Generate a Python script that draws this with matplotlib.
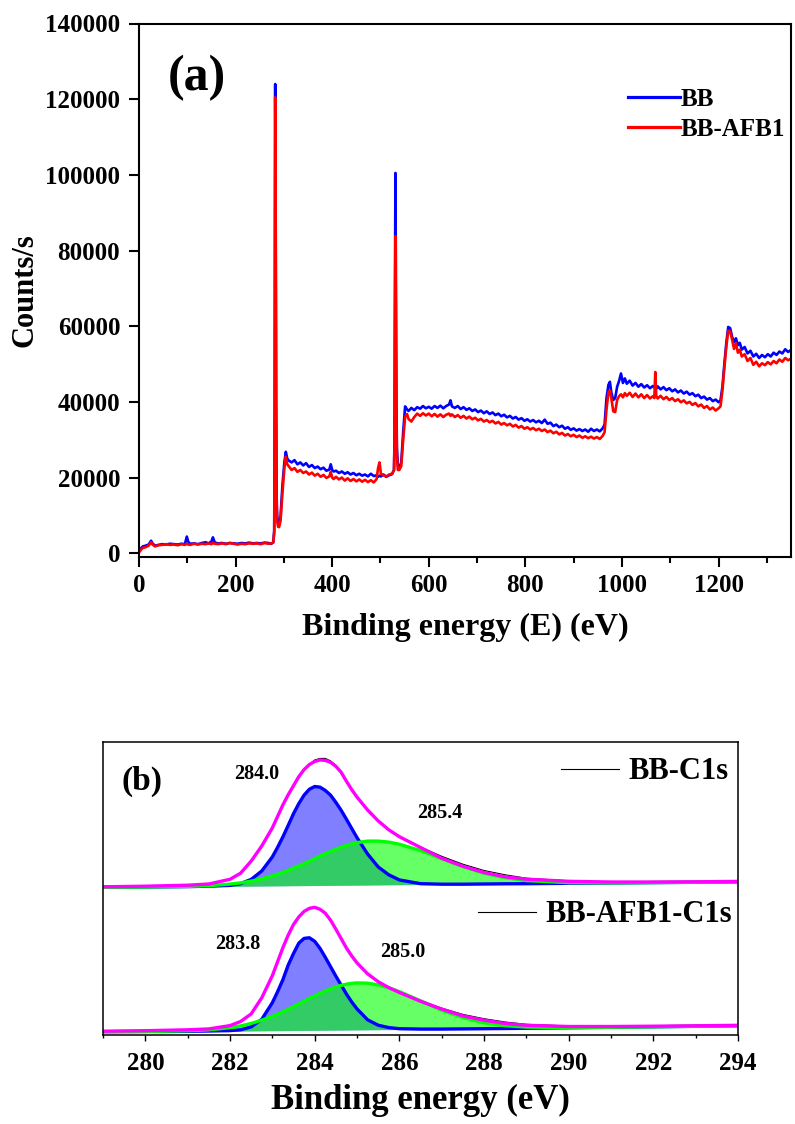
import numpy as np
import matplotlib
matplotlib.use('Agg')
import matplotlib.pyplot as plt
from matplotlib.ticker import MultipleLocator

# ---------------- (a) survey spectra ----------------
survey_energy = [
    0, 4, 8, 14, 20, 25, 28, 33, 40, 48, 56, 64, 72, 80, 88, 95, 99, 102, 106, 114,
    122, 130, 138, 144, 150, 153, 157, 164, 172, 180, 188, 196, 204, 212, 220, 228, 236, 244, 252, 260,
    268, 274, 278,
    280, 281, 282, 283, 284, 285, 286, 288, 290, 293, 297, 301, 304, 307,
    310, 316, 322, 328, 334, 340, 346, 352, 358, 364, 370, 376, 382, 388, 394, 397, 400, 403, 408, 414,
    420, 426, 432, 438, 444, 450, 456, 462, 468, 474, 480, 486, 492, 495, 498, 501, 506, 512, 518, 524,
    528,
    529, 530, 531, 532, 533, 534, 536, 539, 543, 547, 551, 555,
    558, 564, 570, 576, 582, 588, 594, 600, 606, 612, 618, 624, 630, 636, 642, 645, 648,
    654, 660, 666, 672, 678, 684, 690, 696, 702, 708, 714, 720, 726, 732, 738, 744, 750, 756, 762, 768,
    774, 780, 786, 792, 798, 804, 810, 816, 822, 828, 834, 840, 846, 852, 858, 864, 870, 876, 882, 888,
    894, 900, 906, 912, 918, 924, 930, 936, 942, 948, 954, 960,
    964, 968, 972, 975, 978, 982, 986, 990, 994, 998, 1002, 1006, 1010,
    1016, 1022, 1028, 1034, 1040, 1046, 1052, 1058, 1064, 1067, 1069, 1071, 1074,
    1080, 1086, 1092, 1098, 1104, 1110, 1116, 1122, 1128, 1134, 1140, 1146, 1152, 1158, 1164, 1170,
    1176, 1182, 1188, 1194, 1200, 1204,
    1208, 1212, 1216, 1220, 1224, 1228, 1232, 1236, 1240, 1244, 1248, 1254, 1260, 1266, 1272, 1278,
    1284, 1290, 1296, 1302, 1308, 1314, 1320, 1326, 1332, 1338, 1344, 1350,
]

survey_bb = [
    500, 1300, 1800, 2000, 2300, 3300, 2600, 2000, 2200, 2400, 2300, 2500, 2400, 2300, 2500, 2400, 4400, 3000, 2500, 2600,
    2400, 2700, 2900, 2600, 3100, 4200, 2800, 2600, 2700, 2500, 2700, 2600, 2500, 2700, 2600, 2800, 2600, 2700, 2600, 2800,
    2700, 2500, 2900,
    6000, 40000, 124000, 90000, 40000, 15000, 10000, 8000, 7500, 9500, 18000, 24000, 26800, 25000,
    24500, 24000, 24600, 23500, 24000, 23200, 23800, 22800, 23300, 22500, 22900, 22200, 22600, 21800, 22100, 23500, 22000, 21600, 21800, 21200,
    21600, 21000, 21400, 20800, 21200, 20600, 21000, 20500, 20800, 20300, 21000, 20400, 20600, 20200, 20500, 20300, 20800, 20200, 20600, 20900,
    22000,
    30000, 70000, 100500, 70000, 40000, 28000, 23000, 22500, 24000, 32000, 38800, 38000,
    37600, 38400, 37800, 38600, 38200, 38900, 38300, 38700, 38200, 38900, 38400, 39000, 38300, 38900, 39300, 40400, 38800,
    38400, 38900, 38100, 38600, 37900, 38300, 37600, 38000, 37300, 37700, 37000, 37500, 36800, 37200, 36500, 36900, 36200, 36600, 35900, 36300,
    35600, 36000, 35300, 35700, 35000, 35400, 34800, 35200, 34600, 35000, 34400, 35300, 34200, 34500, 33600, 34000, 33300, 33700, 32900, 33300,
    32600, 33000, 32400, 32800, 32300, 32700, 32100, 32900, 32300, 32700, 32200, 33000,
    34000, 41000, 44500, 45300, 42500, 40500, 41000, 44000, 45500, 47500, 45000, 46200, 44800,
    45600, 44300, 45000, 44000, 44700, 43800, 44400, 43600, 44200, 43800, 44000, 43500, 44100,
    43300, 43900, 43100, 43600, 42800, 43300, 42500, 43000, 42200, 42700, 41900, 42300, 41500, 41900, 41000, 41400,
    40600, 41000, 40200, 40600, 39900, 40400,
    44000, 50000, 55500, 59800, 59500, 57200, 55800, 56800, 55000, 55600, 53800, 54500, 52800, 53500, 52000, 52700,
    51600, 52400, 51800, 52600, 52000, 53000, 52400, 53300, 52800, 53900, 53200, 53700,
]

survey_bb_afb1 = [
    200, 900, 1400, 1600, 2000, 2900, 2300, 1800, 2100, 2200, 2400, 2200, 2300, 2100, 2400, 2200, 2500, 2300, 2200, 2500,
    2300, 2500, 2400, 2600, 2400, 2700, 2500, 2400, 2600, 2400, 2700, 2500, 2300, 2500, 2400, 2600, 2500, 2600, 2400, 2700,
    2500, 2600, 2800,
    5500, 38000, 120500, 85000, 38000, 13000, 8500, 7000, 6900, 8500, 16000, 22500, 25500, 23500,
    23000, 22000, 22500, 21500, 22000, 21200, 21600, 20800, 21300, 20500, 21000, 20200, 20700, 19900, 20300, 21500, 20000, 19600, 20200, 19500,
    20000, 19200, 19800, 19100, 19600, 19000, 19500, 18900, 19400, 18800, 19300, 18700, 19600, 22500, 24000, 21000, 20600, 20300, 20800, 21000,
    22000,
    28000, 60000, 83800, 60000, 36000, 26000, 22000, 22000, 23000, 30000, 36000, 36800,
    35500, 34800, 36000, 36900, 36300, 37000, 36400, 36900, 36200, 36800, 36100, 36700, 36000, 36600, 36900, 36300, 36700,
    36000, 36500, 35800, 36300, 35600, 36100, 35400, 35800, 35100, 35500, 34800, 35200, 34600, 35000, 34300, 34700, 34000, 34400, 33800, 34200,
    33500, 33900, 33200, 33600, 32900, 33300, 32700, 33100, 32500, 32900, 32300, 32700, 32000, 32400, 31700, 32100, 31400, 31800, 31100, 31500,
    30900, 31300, 30700, 31100, 30500, 30900, 30400, 30800, 30300, 30700, 30200, 31000,
    32000, 38000, 42500, 43000, 41000, 37500, 37300, 40500, 41500, 42000, 41200, 42300, 41600,
    42400, 41300, 42200, 41200, 42000, 41000, 41800, 40900, 41500, 41000, 47900, 41500, 40900,
    41600, 40700, 41300, 40500, 41000, 40200, 40700, 39900, 40400, 39600, 40000, 39200, 39700, 38800, 39300, 38400,
    38900, 38000, 38500, 37700, 38300, 38800,
    43000, 49000, 54500, 58800, 58600, 56500, 54000, 55500, 53000, 53800, 52000, 52600, 50800, 51600, 49800, 50600,
    49400, 50200, 49700, 50500, 49900, 50800, 50200, 51200, 50600, 51600, 51000, 51400,
]

# ---------------- (b) C1s fits (arbitrary units, stacked) ----------------
c1s_energy = [279, 280, 281, 281.5, 282, 282.25, 282.5, 282.75, 283, 283.125,
              283.25, 283.375, 283.5, 283.625, 283.75, 283.875, 284, 284.125, 284.25, 284.375,
              284.5, 284.625, 284.75, 284.875, 285, 285.25, 285.5, 285.75, 286, 286.5,
              287, 287.5, 288, 288.5, 289, 290, 291, 292, 293, 294]

# BB-C1s (upper)
bb_bg = [147.7, 148.0, 148.3, 148.5, 148.7, 148.8, 148.9, 149.0, 149.1, 149.15,
         149.2, 149.25, 149.3, 149.35, 149.4, 149.45, 149.5, 149.55, 149.6, 149.65,
         149.7, 149.75, 149.8, 149.85, 149.9, 150.0, 150.1, 150.2, 150.3, 150.5,
         150.7, 150.8, 151.0, 151.2, 151.3, 151.7, 152.0, 152.4, 152.7, 153.1]
bb_peak1 = [0, 0, 0.1, 0.3, 0.9, 2.6, 6.7, 15, 29, 38.6,
            49, 60.4, 72, 82, 90.5, 96.3, 99, 98.3, 95, 90.2,
            83, 75, 66, 56.7, 47.5, 31, 18, 10, 4.8, 0.8,
            0.1, 0, 0, 0, 0, 0, 0, 0, 0, 0]
bb_peak2 = [0, 0, 0.3, 0.8, 2.2, 3.3, 5, 7.1, 10, 11.6,
            13.4, 15.4, 17.5, 19.7, 22, 24.4, 26.9, 29.3, 31.7, 34,
            36.1, 38.1, 39.8, 41.3, 42.5, 43.9, 43.8, 42.7, 40.5, 33.9,
            25.7, 17.6, 10.9, 6.1, 3.1, 0.6, 0.1, 0, 0, 0]
bb_envelope = [0.5, 0.8, 1.5, 2.5, 7, 13, 25, 40, 58, 69.5,
               81, 91, 100, 109, 116, 121, 124, 125.5, 125, 123,
               119, 113, 104, 95.5, 88, 75, 64, 55, 48, 37,
               26, 18, 11.5, 7, 4.5, 2, 1, 0.6, 0.5, 0.5]
bb_raw = [0.5, 0.8, 1.5, 2.5, 7, 13, 25, 40, 58, 69.5,
          81, 91, 100, 109, 116, 121, 125.5, 127, 127, 124.5,
          120, 113, 104, 95.5, 88, 75, 64, 55, 48, 37.5,
          28, 20, 13.5, 9, 5.5, 2.5, 1, 0.6, 0.5, 0.5]

# BB-AFB1-C1s (lower)
afb_bg = [3.3, 3.5, 3.7, 3.8, 3.9, 4.0, 4.1, 4.2, 4.3, 4.35,
          4.4, 4.45, 4.5, 4.55, 4.6, 4.65, 4.7, 4.75, 4.8, 4.85,
          4.9, 4.95, 5.0, 5.05, 5.1, 5.2, 5.3, 5.4, 5.5, 5.7,
          5.9, 6.1, 6.3, 6.5, 6.7, 7.2, 7.7, 8.2, 8.7, 9.2]
afb_peak1 = [0, 0, 0, 0.2, 0.5, 1.2, 4, 11.5, 28, 39,
             51, 65.5, 77, 87.3, 92, 92.6, 89, 82, 73, 63.5,
             54, 45, 36, 28, 21, 10, 4.5, 2, 0.8, 0.2,
             0, 0, 0, 0, 0, 0, 0, 0, 0, 0]
afb_peak2 = [0, 0, 0.5, 1.3, 3.4, 5.1, 7.5, 10.6, 14.3, 16.5,
             18.8, 21.3, 23.8, 26.5, 29.2, 31.8, 34.4, 36.9, 39.2, 41.3,
             43.1, 44.7, 45.8, 46.6, 47, 46.6, 44.8, 41.8, 37.9, 28.5,
             19, 11.3, 5.9, 2.8, 1.2, 0.1, 0, 0, 0, 0]
afb_envelope = [0.5, 0.8, 1.5, 2.3, 5.5, 9.5, 17, 33, 55, 69,
                83, 95.5, 106, 113.5, 119, 122, 123, 121, 117, 110,
                101, 91.5, 82, 74, 67, 56, 48, 42, 37, 28,
                20, 13, 8.5, 5, 3, 1.3, 0.8, 0.6, 0.5, 0.5]
afb_raw = [0.5, 0.8, 1.5, 2.3, 5.5, 9.5, 17, 33, 55, 69,
           83, 95.5, 106, 113.5, 119, 122, 123, 121, 117, 110,
           101, 91.5, 82, 74, 67, 56, 48, 42, 37, 28.5,
           21, 14.5, 10, 6.5, 4, 1.8, 0.8, 0.6, 0.5, 0.5]

peak_labels = ['284.0', '285.4', '283.8', '285.0']
peak_label_x = [282.63, 286.95, 282.18, 286.07]
peak_label_y = [261, 221.7, 91, 82.7]

plt.rcParams['font.family'] = ['Liberation Serif', 'DejaVu Serif']
plt.rcParams['font.weight'] = 'bold'
plt.rcParams['axes.labelweight'] = 'bold'

fig = plt.figure(figsize=(7.95, 11.24), dpi=100)

# ---- panel (a)
ax1 = fig.add_axes([139 / 795, 1 - 557 / 1124, 652 / 795, 533.5 / 1124])
ax1.plot(survey_energy, survey_bb, color='#0000ff', lw=1.9, label='BB')
ax1.plot(survey_energy, survey_bb_afb1, color='#ff0000', lw=1.9, label='BB-AFB1')
ax1.set_xlim(0, 1350)
ax1.set_ylim(-1000, 140000)
ax1.xaxis.set_major_locator(MultipleLocator(200))
ax1.xaxis.set_minor_locator(MultipleLocator(100))
ax1.yaxis.set_major_locator(MultipleLocator(20000))
ax1.tick_params(which='both', direction='out', top=False, right=False, width=1.5, labelsize=18)
ax1.tick_params(which='major', length=7)
ax1.tick_params(which='minor', length=4)
ax1.tick_params(axis='x', pad=5)
ax1.tick_params(axis='y', pad=6.5)
for s in ax1.spines.values():
    s.set_linewidth(1.5)
ax1.set_xlabel('Binding energy (E) (eV)', fontsize=23, labelpad=12)
ax1.set_ylabel('Counts/s', fontsize=22, labelpad=4)
ax1.text(0.088, 0.898, '(a)', transform=ax1.transAxes, fontsize=36, ha='center', va='center')

leg = ax1.legend(loc='upper left', bbox_to_anchor=(0.7496, 0.879), frameon=False, fontsize=18,
                 borderpad=0, borderaxespad=0, handlelength=2.1, handletextpad=0.0, labelspacing=0.26)
for h in leg.legend_handles:
    h.set_linewidth(2.3)

# ---- panel (b)
ax2 = fig.add_axes([103 / 795, 1 - 1035 / 1124, 635 / 795, 293 / 1124])


def draw_c1s(ax, bg, p1, p2, env, raw, name):
    bg = np.array(bg)
    ax.fill_between(c1s_energy, bg, bg + np.array(p1), color='#0000ff', alpha=0.5, lw=0)
    ax.plot(c1s_energy, bg + np.array(p1), color='#0000ff', lw=2.4, solid_joinstyle='round')
    ax.fill_between(c1s_energy, bg, bg + np.array(p2), color='#00ff00', alpha=0.6, lw=0)
    ax.plot(c1s_energy, bg + np.array(p2), color='#00ff00', lw=2.4, solid_joinstyle='round')
    line, = ax.plot(c1s_energy, bg + np.array(raw), color='black', lw=0.8, label=name)
    ax.plot(c1s_energy, bg + np.array(env), color='#ff00ff', lw=2.4, solid_joinstyle='round')
    return line


h_top = draw_c1s(ax2, bb_bg, bb_peak1, bb_peak2, bb_envelope, bb_raw, 'BB-C1s')
h_bot = draw_c1s(ax2, afb_bg, afb_peak1, afb_peak2, afb_envelope, afb_raw, 'BB-AFB1-C1s')

for lab, x, y in zip(peak_labels, peak_label_x, peak_label_y):
    ax2.text(x, y, lab, fontsize=14.5, ha='center', va='center')

ax2.set_xlim(279, 294)
ax2.set_ylim(0, 293)
ax2.set_yticks([])
ax2.xaxis.set_major_locator(MultipleLocator(2))
ax2.xaxis.set_minor_locator(MultipleLocator(1))
ax2.tick_params(axis='x', which='both', direction='out', top=False, width=1, labelsize=18, pad=8)
ax2.tick_params(axis='x', which='major', length=4)
ax2.tick_params(axis='x', which='minor', length=2.5)
for s in ax2.spines.values():
    s.set_linewidth(1.1)
ax2.set_xlabel('Binding energy (eV)', fontsize=25, labelpad=7)
ax2.text(0.061, 0.867, '(b)', transform=ax2.transAxes, fontsize=24, ha='center', va='center')

leg1 = ax2.legend(handles=[h_top], loc='center right', bbox_to_anchor=(0.985, 0.898), frameon=False,
                  fontsize=22, borderpad=0, borderaxespad=0, handlelength=1.9, handletextpad=0.3)
ax2.add_artist(leg1)
ax2.legend(handles=[h_bot], loc='center right', bbox_to_anchor=(0.99, 0.41), frameon=False,
           fontsize=22, borderpad=0, borderaxespad=0, handlelength=1.9, handletextpad=0.3)

fig.savefig('out.png', dpi=100)
